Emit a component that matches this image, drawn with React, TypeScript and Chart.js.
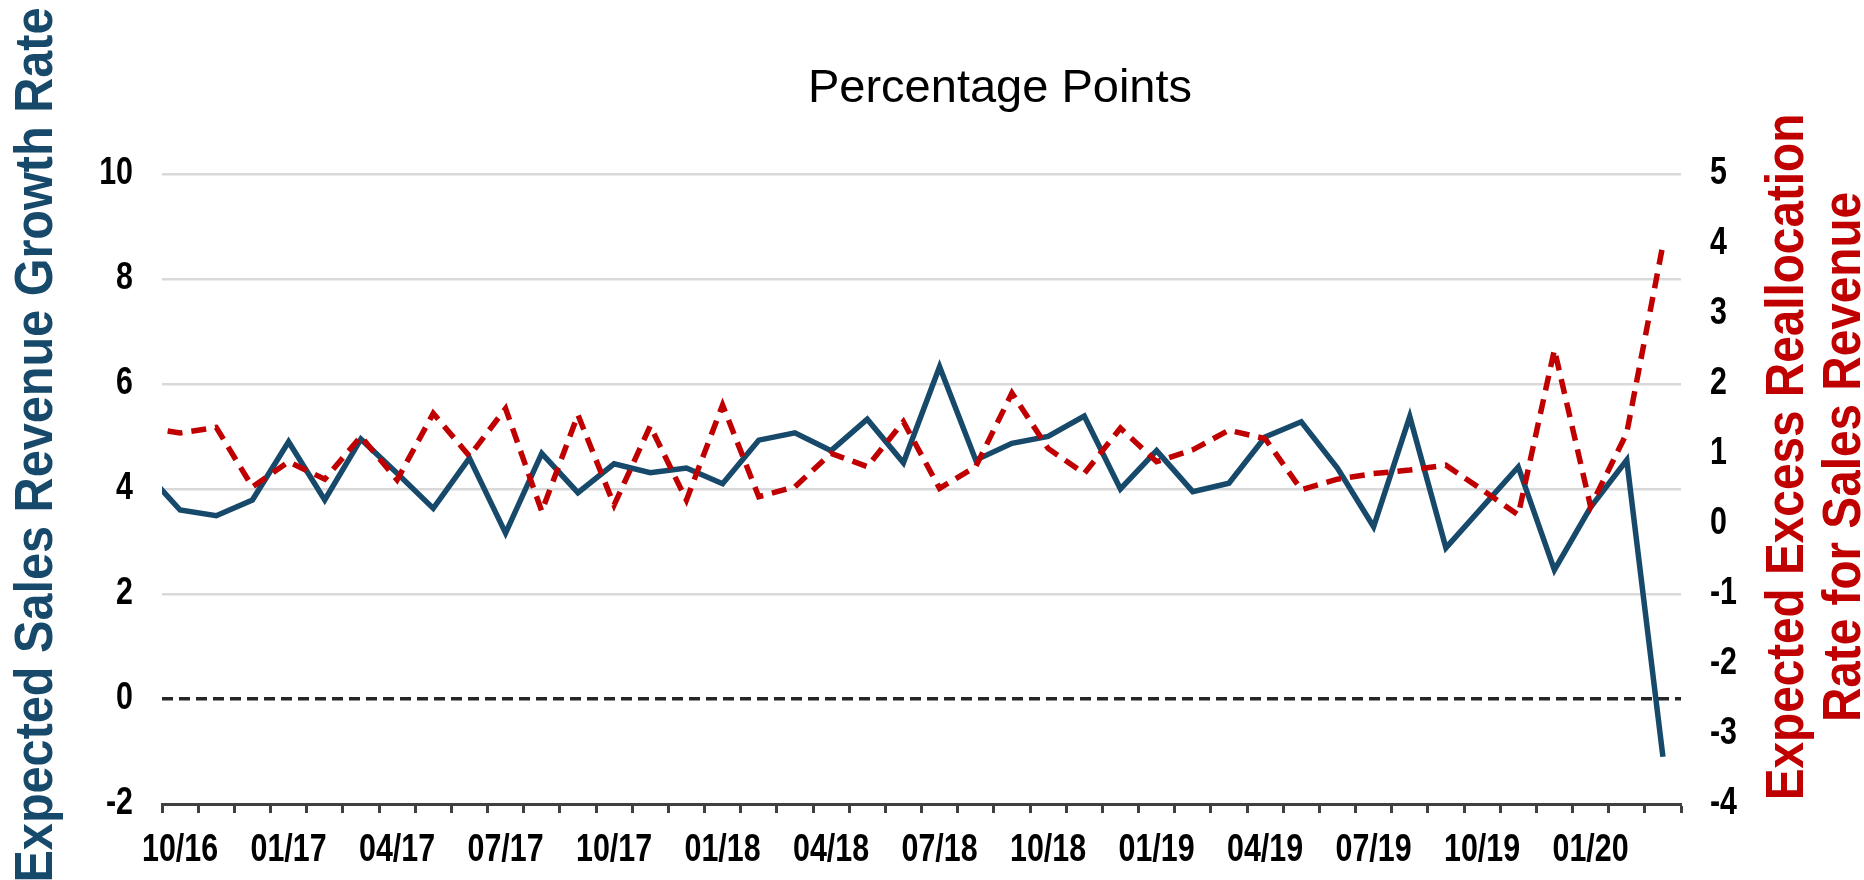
import { useEffect, useRef } from 'react';
import { Chart, registerables } from 'chart.js';

Chart.register(...registerables);

// Monthly categories; the first (09/16) sits just outside the visible range so the
// lines run in from the left edge, as in the reference.
const months = [
  '09/16', '10/16', '11/16', '12/16',
  '01/17', '02/17', '03/17', '04/17', '05/17', '06/17', '07/17', '08/17', '09/17', '10/17', '11/17', '12/17',
  '01/18', '02/18', '03/18', '04/18', '05/18', '06/18', '07/18', '08/18', '09/18', '10/18', '11/18', '12/18',
  '01/19', '02/19', '03/19', '04/19', '05/19', '06/19', '07/19', '08/19', '09/19', '10/19', '11/19', '12/19',
  '01/20', '02/20', '03/20',
];

// Expected Sales Revenue Growth Rate (left axis)
const salesGrowth = [
  4.36,
  3.60, 3.49, 3.79, 4.90, 3.79, 4.95, 4.30, 3.63, 4.59, 3.16, 4.68, 3.93,
  4.48, 4.31, 4.40, 4.10, 4.93, 5.07, 4.73, 5.33, 4.50, 6.33, 4.55, 4.87,
  5.00, 5.39, 4.00, 4.73, 3.95, 4.11, 4.99, 5.28, 4.40, 3.28, 5.38, 2.88,
  3.65, 4.42, 2.46, 3.65, 4.55, -1.10,
];

// Expected Excess Reallocation Rate for Sales Revenue (right axis)
const excessReallocation = [
  1.38,
  1.30, 1.38, 0.53, 0.89, 0.64, 1.25, 0.63, 1.58, 0.97, 1.65, 0.18, 1.56,
  0.27, 1.40, 0.34, 1.70, 0.39, 0.53, 1.01, 0.82, 1.46, 0.51, 0.82, 1.87,
  1.08, 0.72, 1.37, 0.89, 1.06, 1.34, 1.22, 0.49, 0.64, 0.72, 0.77, 0.84,
  0.49, 0.13, 2.49, 0.25, 1.30, 3.99,
];

const leftTicks = { min: -2, max: 10, step: 2 };
const rightTicks = { min: -4, max: 5, step: 1 };

const chartTitle = 'Percentage Points';
const leftTitle = 'Expected Sales Revenue Growth Rate';
const rightTitleLines = ['Expected Excess Reallocation', 'Rate for Sales Revenue'];

const FONT = '"Liberation Sans", Arial, Helvetica, sans-serif';
const BLUE = '#17496b';
const RED = '#c00000';

// Bold, narrow tick labels (Arial Narrow look), drawn at the library's tick positions.
const tickLabelPlugin = {
  id: 'narrowTickLabels',
  afterDraw(chart: any) {
    const ctx = chart.ctx as CanvasRenderingContext2D;
    const { x, y, y2 } = chart.scales;
    ctx.save();
    ctx.fillStyle = '#000000';
    ctx.font = `bold 38px ${FONT}`;
    ctx.textBaseline = 'middle';
    const draw = (text: string, px: number, py: number, align: CanvasTextAlign) => {
      ctx.save();
      ctx.translate(px, py);
      ctx.scale(0.8, 1);
      ctx.textAlign = align;
      ctx.fillText(text, 0, 0);
      ctx.restore();
    };
    y.ticks.forEach((t: any, i: number) => {
      draw(String(t.value), y.right - 29, y.getPixelForTick(i), 'right');
    });
    y2.ticks.forEach((t: any, i: number) => {
      draw(String(t.value), y2.left + 29, y2.getPixelForTick(i), 'left');
    });
    x.ticks.forEach((t: any, i: number) => {
      const idx = Number(t.value);
      if ((idx - 1) % 3 === 0) {
        draw(months[idx], x.getPixelForTick(i), x.top + 47, 'center');
      }
    });
    ctx.restore();
  },
};

const titlesPlugin = {
  id: 'customTitles',
  afterDraw(chart: any) {
    const ctx = chart.ctx as CanvasRenderingContext2D;
    ctx.save();
    ctx.textAlign = 'center';
    ctx.textBaseline = 'alphabetic';

    ctx.fillStyle = '#000000';
    ctx.font = `47px ${FONT}`;
    ctx.fillText(chartTitle, 1000, 102);

    ctx.save();
    ctx.translate(52, 445);
    ctx.rotate(-Math.PI / 2);
    ctx.scale(0.9, 1);
    ctx.fillStyle = BLUE;
    ctx.font = `bold 54px ${FONT}`;
    ctx.fillText(leftTitle, 0, 0);
    ctx.restore();

    const baselines = [1803, 1860];
    rightTitleLines.forEach((line, i) => {
      ctx.save();
      ctx.translate(baselines[i], 457);
      ctx.rotate(-Math.PI / 2);
      ctx.scale(0.9, 1);
      ctx.fillStyle = RED;
      ctx.font = `bold 53px ${FONT}`;
      ctx.fillText(line, 0, 0);
      ctx.restore();
    });

    ctx.restore();
  },
};

export default function App() {
  const canvasRef = useRef<HTMLCanvasElement | null>(null);

  useEffect(() => {
    document.body.style.margin = '0';
    const canvas = canvasRef.current;
    if (!canvas) return;

    const chart = new Chart(canvas, {
      type: 'line',
      data: {
        labels: months,
        datasets: [
          {
            label: 'Expected Excess Reallocation Rate for Sales Revenue',
            data: excessReallocation,
            yAxisID: 'y2',
            borderColor: RED,
            borderWidth: 5.5,
            borderDash: [15, 9],
            pointRadius: 0,
            tension: 0,
            fill: false,
            order: 0,
          },
          {
            label: 'Expected Sales Revenue Growth Rate',
            data: salesGrowth,
            yAxisID: 'y',
            borderColor: BLUE,
            borderWidth: 5.5,
            pointRadius: 0,
            tension: 0,
            fill: false,
            order: 1,
          },
        ],
      },
      options: {
        animation: false,
        responsive: true,
        maintainAspectRatio: false,
        layout: { padding: { top: 174, left: 0, right: 0, bottom: 0 } },
        plugins: {
          legend: { display: false },
          title: { display: false },
          tooltip: { enabled: false },
        },
        scales: {
          x: {
            type: 'category',
            min: months[1],
            offset: true,
            grid: {
              drawOnChartArea: false,
              drawTicks: true,
              tickLength: 9,
              tickWidth: 3,
              tickColor: '#404040',
              offset: true,
            },
            border: { display: true, color: '#404040', width: 3 },
            ticks: { display: false, autoSkip: false },
            afterFit(scale: any) {
              scale.height = 76;
            },
          },
          y: {
            type: 'linear',
            position: 'left',
            min: leftTicks.min,
            max: leftTicks.max,
            ticks: { display: false, stepSize: leftTicks.step },
            grid: {
              drawTicks: false,
              color: (c: any) => (c.tick && c.tick.value === 0 ? '#262626' : '#d9d9d9'),
              lineWidth: (c: any) => (c.tick && c.tick.value === 0 ? 3.5 : 2.5),
            },
            border: {
              display: false,
              dash: (c: any) => (c.tick && c.tick.value === 0 ? [11, 6] : []),
            },
            afterFit(scale: any) {
              scale.width = 162;
            },
          },
          y2: {
            type: 'linear',
            position: 'right',
            min: rightTicks.min,
            max: rightTicks.max,
            ticks: { display: false, stepSize: rightTicks.step },
            grid: { drawOnChartArea: false, drawTicks: false },
            border: { display: false },
            afterFit(scale: any) {
              scale.width = 183;
            },
          },
        },
      },
      plugins: [tickLabelPlugin, titlesPlugin],
    });

    return () => {
      chart.destroy();
    };
  }, []);

  return (
    <div style={{ width: 1864, height: 880, position: 'relative', background: '#ffffff' }}>
      <canvas ref={canvasRef} />
    </div>
  );
}
